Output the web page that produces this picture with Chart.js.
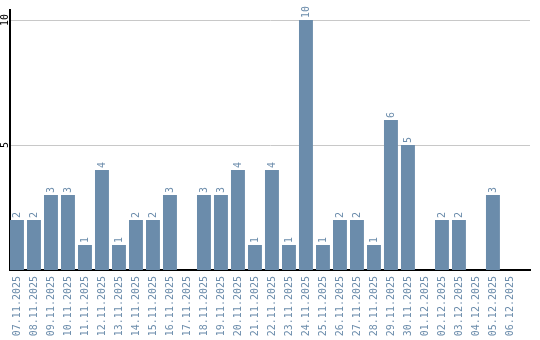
<!DOCTYPE html>
<html>
<head>
<meta charset="utf-8">
<script src="https://cdn.jsdelivr.net/npm/chart.js@4.4.1/dist/chart.umd.min.js"></script>
<style>
  html, body { margin: 0; padding: 0; background: #fff; }
</style>
</head>
<body>
<canvas id="chart" width="540" height="340"></canvas>
<script>
const dates = [
  '07.11.2025', '08.11.2025', '09.11.2025', '10.11.2025', '11.11.2025',
  '12.11.2025', '13.11.2025', '14.11.2025', '15.11.2025', '16.11.2025',
  '17.11.2025', '18.11.2025', '19.11.2025', '20.11.2025', '21.11.2025',
  '22.11.2025', '23.11.2025', '24.11.2025', '25.11.2025', '26.11.2025',
  '27.11.2025', '28.11.2025', '29.11.2025', '30.11.2025', '01.12.2025',
  '02.12.2025', '03.12.2025', '04.12.2025', '05.12.2025', '06.12.2025'
];
const counts = [2, 2, 3, 3, 1, 4, 1, 2, 2, 3, 0, 3, 3, 4, 1, 4, 1, 10, 1, 2, 2, 1, 6, 5, 0, 2, 2, 0, 3, 0];
const yTicks = [5, 10];

const blue = '#6b8cab';
const font = { family: 'DejaVu Sans Mono', size: 10 };

// value above each bar, rotated like the axis labels
const valueLabels = {
  id: 'valueLabels',
  afterDatasetsDraw(chart) {
    const ctx = chart.ctx;
    const meta = chart.getDatasetMeta(0);
    ctx.save();
    ctx.font = '10px "DejaVu Sans Mono"';
    ctx.fillStyle = blue;
    ctx.textAlign = 'left';
    ctx.textBaseline = 'middle';
    meta.data.forEach((bar, i) => {
      if (!counts[i]) return;
      ctx.save();
      ctx.translate(bar.x, bar.y - 2);
      ctx.rotate(-Math.PI / 2);
      ctx.fillText(String(counts[i]), 0, 0);
      ctx.restore();
    });
    ctx.restore();
  }
};

const chart = new Chart(document.getElementById('chart'), {
  type: 'bar',
  data: {
    datasets: [{
      data: counts.map((v, i) => ({ x: i, y: v })),
      backgroundColor: blue,
      barPercentage: 0.82,
      categoryPercentage: 1
    }]
  },
  options: {
    responsive: false,
    animation: false,
    layout: { padding: { top: 10, right: 10, left: 0, bottom: 0 } },
    plugins: { legend: { display: false }, tooltip: { enabled: false } },
    scales: {
      x: {
        type: 'linear',
        offset: false,
        min: -0.41,
        max: 30.18,
        afterBuildTicks: s => { s.ticks = dates.map((d, i) => ({ value: i })); },
        afterFit: s => { s.height = 70; },
        grid: { display: false, drawTicks: false },
        border: { color: '#000', width: 2 },
        ticks: {
          autoSkip: false,
          minRotation: 90,
          maxRotation: 90,
          padding: 6,
          color: blue,
          font: font,
          callback: v => dates[v]
        }
      },
      y: {
        min: 0,
        max: 10.4,
        afterBuildTicks: s => { s.ticks = yTicks.map(v => ({ value: v })); },
        afterFit: s => { s.width = 10; },
        grid: { color: '#c8c8c8', drawTicks: false },
        border: { color: '#000', width: 2 },
        ticks: {
          minRotation: 90,
          maxRotation: 90,
          crossAlign: 'center',
          padding: -1,
          color: '#000',
          font: font
        }
      }
    }
  },
  plugins: [valueLabels]
});
</script>
</body>
</html>
